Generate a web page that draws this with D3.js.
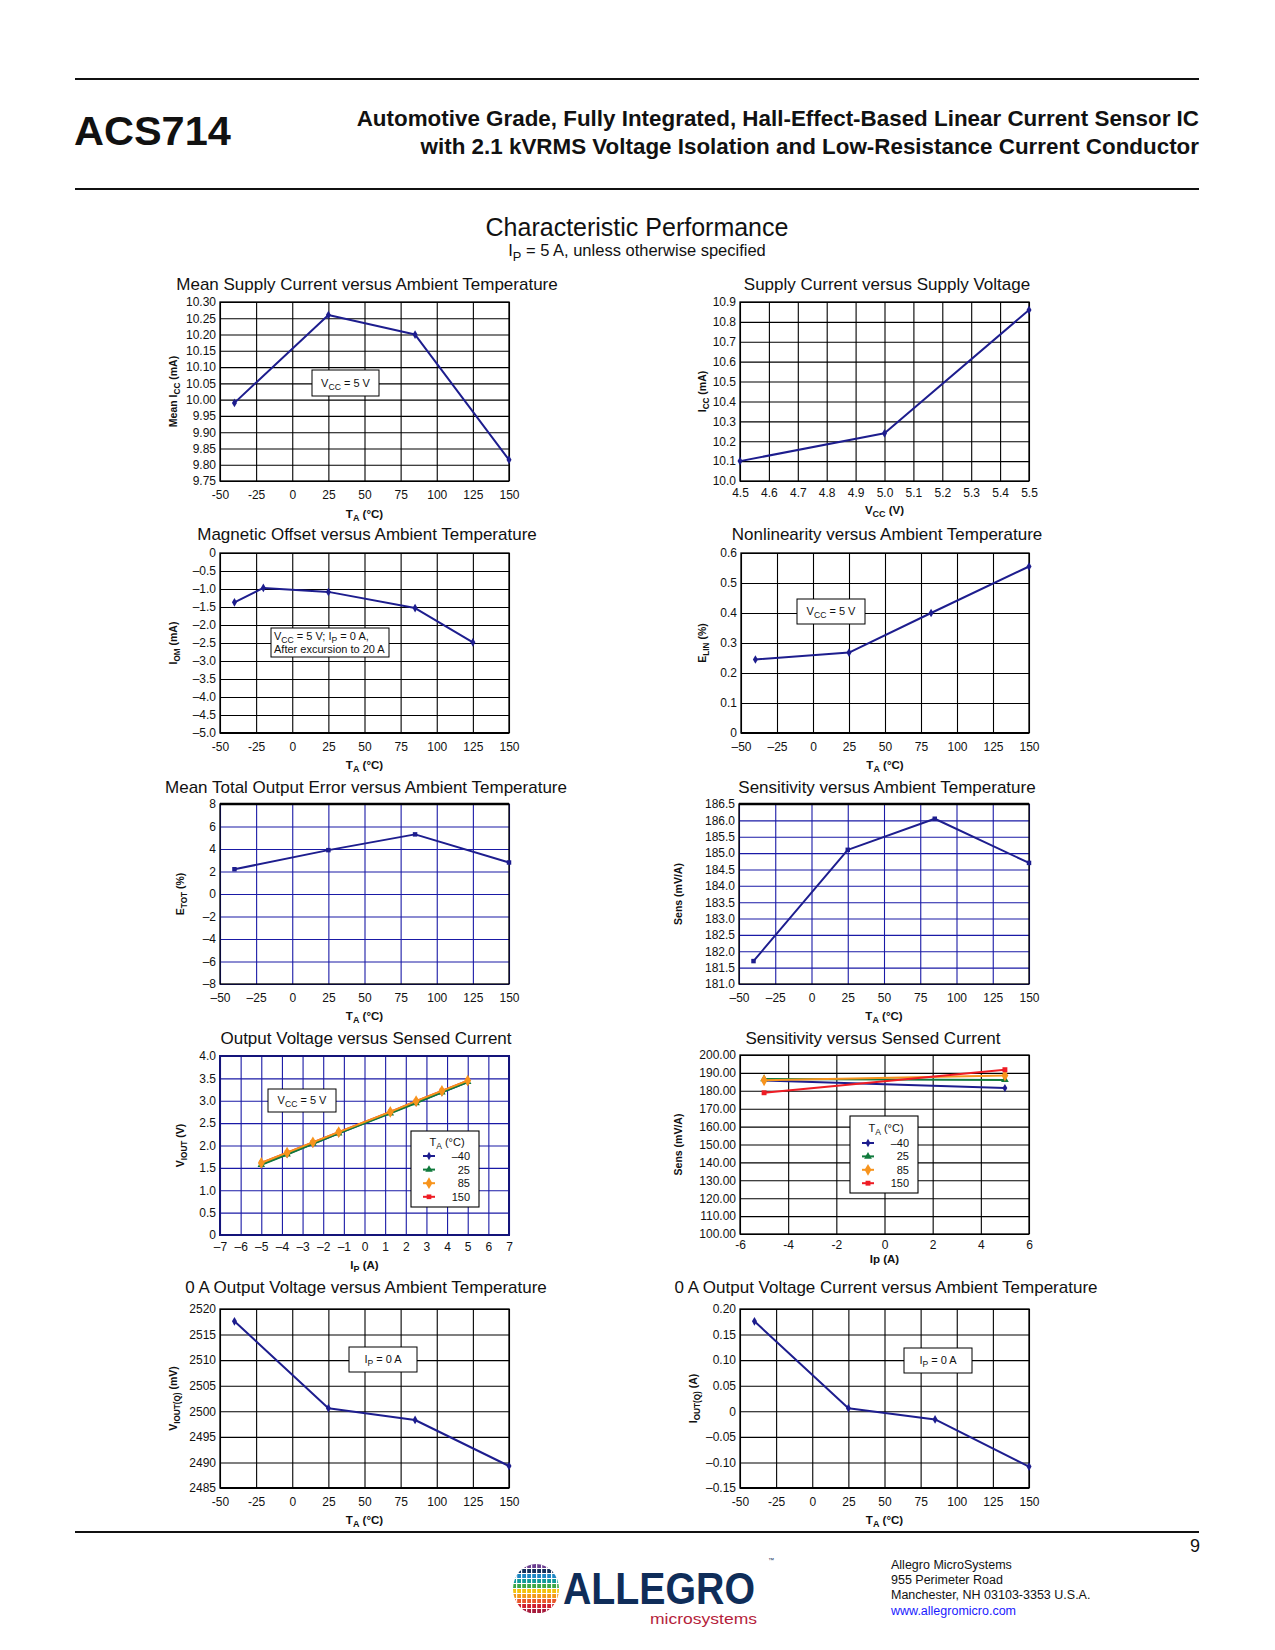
<!DOCTYPE html>
<html><head><meta charset="utf-8">
<script src="https://cdn.jsdelivr.net/npm/d3@7"></script>
<style>
body{margin:0;background:#fff}
svg{display:block}
text{font-family:"Liberation Sans",Arial,Helvetica,sans-serif}
</style>
</head><body>
<svg id="page" width="1275" height="1650"></svg>
<script>
// ---------------- DATA ----------------
// 1 Mean supply current vs ambient temperature
const c1Temp = [-40, 25, 85, 150];
const c1Icc = [9.99, 10.26, 10.20, 9.815];
const c1XTicks = [-50, -25, 0, 25, 50, 75, 100, 125, 150];
const c1XLabels = ["-50", "-25", "0", "25", "50", "75", "100", "125", "150"];
const c1YTicks = [9.75, 9.80, 9.85, 9.90, 9.95, 10.00, 10.05, 10.10, 10.15, 10.20, 10.25, 10.30];
const c1YLabels = ["9.75", "9.80", "9.85", "9.90", "9.95", "10.00", "10.05", "10.10", "10.15", "10.20", "10.25", "10.30"];

// 2 Supply current vs supply voltage
const c2Vcc = [4.5, 5.0, 5.5];
const c2Icc = [10.10, 10.24, 10.86];
const c2XTicks = [4.5, 4.6, 4.7, 4.8, 4.9, 5.0, 5.1, 5.2, 5.3, 5.4, 5.5];
const c2XLabels = ["4.5", "4.6", "4.7", "4.8", "4.9", "5.0", "5.1", "5.2", "5.3", "5.4", "5.5"];
const c2YTicks = [10.0, 10.1, 10.2, 10.3, 10.4, 10.5, 10.6, 10.7, 10.8, 10.9];
const c2YLabels = ["10.0", "10.1", "10.2", "10.3", "10.4", "10.5", "10.6", "10.7", "10.8", "10.9"];

// 3 Magnetic offset vs ambient temperature
const c3Temp = [-40, -20, 25, 85, 125];
const c3Iom = [-1.37, -0.97, -1.08, -1.53, -2.48];
const c3YTicks = [0, -0.5, -1.0, -1.5, -2.0, -2.5, -3.0, -3.5, -4.0, -4.5, -5.0];
const c3YLabels = ["0", "–0.5", "–1.0", "–1.5", "–2.0", "–2.5", "–3.0", "–3.5", "–4.0", "–4.5", "–5.0"];

// 4 Nonlinearity vs ambient temperature
const c4Temp = [-40, 25, 82, 150];
const c4Elin = [0.245, 0.268, 0.40, 0.555];
const c4XLabels = ["–50", "–25", "0", "25", "50", "75", "100", "125", "150"];
const c4YTicks = [0, 0.1, 0.2, 0.3, 0.4, 0.5, 0.6];
const c4YLabels = ["0", "0.1", "0.2", "0.3", "0.4", "0.5", "0.6"];

// 5 Mean total output error vs ambient temperature
const c5Temp = [-40, 25, 85, 150];
const c5Etot = [2.2, 3.9, 5.3, 2.8];
const c5YTicks = [-8, -6, -4, -2, 0, 2, 4, 6, 8];
const c5YLabels = ["–8", "–6", "–4", "–2", "0", "2", "4", "6", "8"];

// 6 Sensitivity vs ambient temperature
const c6Temp = [-40, 25, 85, 150];
const c6Sens = [181.7, 185.1, 186.05, 184.7];
const c6YTicks = [181.0, 181.5, 182.0, 182.5, 183.0, 183.5, 184.0, 184.5, 185.0, 185.5, 186.0, 186.5];
const c6YLabels = ["181.0", "181.5", "182.0", "182.5", "183.0", "183.5", "184.0", "184.5", "185.0", "185.5", "186.0", "186.5"];

// 7 Output voltage vs sensed current
const c7Ip = [-5, -3.75, -2.5, -1.25, 1.25, 2.5, 3.75, 5];
const c7VoutM40 = [1.58, 1.81, 2.04, 2.27, 2.73, 2.96, 3.19, 3.42];
const c7Vout25 = [1.57, 1.80, 2.04, 2.27, 2.72, 2.95, 3.19, 3.42];
const c7Vout85 = [1.61, 1.84, 2.07, 2.30, 2.75, 2.99, 3.22, 3.45];
const c7Vout150 = [1.61, 1.84, 2.07, 2.30, 2.75, 2.99, 3.22, 3.45];
const c7XTicks = [-7, -6, -5, -4, -3, -2, -1, 0, 1, 2, 3, 4, 5, 6, 7];
const c7XLabels = ["–7", "–6", "–5", "–4", "–3", "–2", "–1", "0", "1", "2", "3", "4", "5", "6", "7"];
const c7YTicks = [0, 0.5, 1.0, 1.5, 2.0, 2.5, 3.0, 3.5, 4.0];
const c7YLabels = ["0", "0.5", "1.0", "1.5", "2.0", "2.5", "3.0", "3.5", "4.0"];

// 8 Sensitivity vs sensed current
const c8Ip = [-5, 5];
const c8SensM40 = [185.8, 181.5];
const c8Sens25 = [186.6, 186.1];
const c8Sens85 = [185.9, 188.5];
const c8Sens150 = [178.9, 191.8];
const c8XTicks = [-6, -4, -2, 0, 2, 4, 6];
const c8XLabels = ["-6", "-4", "-2", "0", "2", "4", "6"];
const c8YTicks = [100, 110, 120, 130, 140, 150, 160, 170, 180, 190, 200];
const c8YLabels = ["100.00", "110.00", "120.00", "130.00", "140.00", "150.00", "160.00", "170.00", "180.00", "190.00", "200.00"];

// legend temperatures
const legendTemps = ["–40", "25", "85", "150"];

// 9 0 A output voltage vs ambient temperature
const c9Temp = [-40, 25, 85, 150];
const c9Vout = [2517.6, 2500.6, 2498.3, 2489.3];
const c9YTicks = [2485, 2490, 2495, 2500, 2505, 2510, 2515, 2520];
const c9YLabels = ["2485", "2490", "2495", "2500", "2505", "2510", "2515", "2520"];

// 10 0 A output current vs ambient temperature
const c10Temp = [-40, 25, 85, 150];
const c10Iout = [0.176, 0.006, -0.016, -0.108];
const c10YTicks = [-0.15, -0.10, -0.05, 0, 0.05, 0.10, 0.15, 0.20];
const c10YLabels = ["–0.15", "–0.10", "–0.05", "0", "0.05", "0.10", "0.15", "0.20"];

// ---------------- STYLE ----------------
const NAVY = "#1d1d8e";
const GRIDBLUE = "#1a1aa6";
const GREEN = "#107a3c";
const ORANGE = "#f7941d";
const RED = "#ee1c24";
const TICKFS = 12;

const svg = d3.select("#page");

function rich(t, str, fs) {
  const parts = str.split(/(\{[^}]*\})/);
  let sub = false;
  parts.forEach(p => {
    if (!p) return;
    if (p[0] === "{") {
      t.append("tspan").attr("dy", (0.28 * fs).toFixed(2)).attr("font-size", (fs * 0.78).toFixed(2)).text(p.slice(1, -1));
      sub = true;
    } else {
      const s = t.append("tspan").text(p);
      if (sub) { s.attr("dy", (-0.28 * fs).toFixed(2)); sub = false; }
    }
  });
  return t;
}

function sym(type, size) {
  return d3.symbol().type(type).size(size)();
}

function chart(c) {
  const g = svg.append("g");
  const x = d3.scaleLinear().domain(c.xDomain).range([c.x0, c.x1]);
  const y = d3.scaleLinear().domain(c.yDomain).range([c.y1, c.y0]);
  const w = c.x1 - c.x0, h = c.y1 - c.y0;
  const gc = c.grid || "#000";

  const xa = g.append("g").attr("transform", `translate(0,${c.y1})`)
    .call(d3.axisBottom(x).tickValues(c.xTicks).tickSize(-h).tickPadding(c.xPad || 9)
      .tickFormat((d, i) => c.xLabels[i]));
  const ya = g.append("g").attr("transform", `translate(${c.x0},0)`)
    .call(d3.axisLeft(y).tickValues(c.yTicks).tickSize(-w).tickPadding(4)
      .tickFormat((d, i) => c.yLabels[i]));
  [xa, ya].forEach(a => {
    a.select(".domain").remove();
    a.selectAll(".tick line").attr("stroke", gc).attr("stroke-width", 1.1);
    a.selectAll(".tick text").attr("fill", "#111").attr("font-size", TICKFS)
      .style("font-family", '"Liberation Sans",Arial,sans-serif');
  });
  // frame
  g.append("rect").attr("x", c.x0).attr("y", c.y0).attr("width", w).attr("height", h)
    .attr("fill", "none").attr("stroke", c.frame || "#000").attr("stroke-width", c.frameW || 1.3);
  if (c.thickBottom) g.append("line").attr("x1", c.x0).attr("x2", c.x1).attr("y1", c.y1).attr("y2", c.y1)
    .attr("stroke", "#000").attr("stroke-width", 2.2);
  if (c.thickTop) g.append("line").attr("x1", c.x0).attr("x2", c.x1).attr("y1", c.y0).attr("y2", c.y0)
    .attr("stroke", "#000").attr("stroke-width", 2.4);

  // series
  c.series.forEach(s => {
    const pts = s.x.map((v, i) => [v, s.y[i]]);
    g.append("path").datum(pts).attr("fill", "none").attr("stroke", s.color).attr("stroke-width", s.width || 2)
      .attr("stroke-linejoin", "round")
      .attr("d", d3.line().x(d => x(d[0])).y(d => y(d[1])));
    g.selectAll(null).data(pts).enter().append("path")
      .attr("transform", d => `translate(${x(d[0])},${y(d[1])})`)
      .attr("d", sym(s.symbol, s.symSize || 22)).attr("fill", s.color);
  });

  // title
  g.append("text").attr("x", c.titleX).attr("y", c.titleY + 6).attr("text-anchor", "middle")
    .attr("font-size", 17).attr("fill", "#111").text(c.title);
  // x title
  rich(g.append("text").attr("x", (c.x0 + c.x1) / 2).attr("y", c.xTitleY + 4).attr("text-anchor", "middle")
    .attr("font-size", 11.5).attr("font-weight", "bold").attr("fill", "#111"), c.xTitle, 11.5);
  // y title
  rich(g.append("text").attr("transform", `translate(${c.yTitleX + 4},${(c.y0 + c.y1) / 2}) rotate(-90)`)
    .attr("text-anchor", "middle").attr("font-size", 10.5).attr("font-weight", "bold").attr("fill", "#111"), c.yTitle, 10.5);

  // notes
  (c.notes || []).forEach(n => {
    g.append("rect").attr("x", n.x).attr("y", n.y).attr("width", n.w).attr("height", n.h)
      .attr("fill", "#fff").attr("stroke", "#000").attr("stroke-width", 1);
    n.lines.forEach((ln, i) => {
      const t = g.append("text").attr("font-size", 11).attr("fill", "#111");
      if (n.align === "start") t.attr("x", n.x + 3);
      else t.attr("x", n.x + n.w / 2).attr("text-anchor", "middle");
      const cy = n.lines.length === 1 ? n.y + n.h / 2 : n.y + 8 + i * 13.3;
      t.attr("y", cy + 3.5);
      rich(t, ln, 11);
    });
  });

  // legend
  if (c.legend) {
    const L = c.legend;
    g.append("rect").attr("x", L.x).attr("y", L.y).attr("width", L.w).attr("height", L.h)
      .attr("fill", "#fff").attr("stroke", "#000").attr("stroke-width", 1.1);
    rich(g.append("text").attr("x", L.x + L.w / 2 + 2).attr("y", L.y + L.headY + 4).attr("text-anchor", "middle")
      .attr("font-size", 11).attr("fill", "#111"), "T{A} (°C)", 11);
    L.items.forEach((it, i) => {
      const yy = L.y + L.row0 + i * L.step;
      g.append("line").attr("x1", L.x + 12).attr("x2", L.x + 24).attr("y1", yy).attr("y2", yy)
        .attr("stroke", it.color).attr("stroke-width", 2);
      g.append("path").attr("transform", `translate(${L.x + 18},${yy})`).attr("d", sym(it.symbol, it.symSize || 22))
        .attr("fill", it.color);
      g.append("text").attr("x", L.x + L.labelX).attr("y", yy + 4).attr("text-anchor", "end")
        .attr("font-size", 11).attr("fill", "#111").text(it.label);
    });
  }
}

const tempTicks = c1XTicks;
const tDom = [-50, 150];

chart({x0: 220, x1: 509, y0: 302, y1: 481, xDomain: tDom, yDomain: [9.75, 10.30],
  xTicks: tempTicks, xLabels: c1XLabels, yTicks: c1YTicks, yLabels: c1YLabels,
  title: "Mean Supply Current versus Ambient Temperature", titleX: 367, titleY: 284,
  xTitle: "T{A} (°C)", xTitleY: 514, yTitle: "Mean I{CC} (mA)", yTitleX: 173,
  series: [{x: c1Temp, y: c1Icc, color: NAVY, symbol: d3.symbolDiamond}],
  notes: [{x: 312, y: 370, w: 67, h: 26, lines: ["V{CC} = 5 V"]}]});

chart({x0: 740, x1: 1029, y0: 302, y1: 481, xDomain: [4.5, 5.5], yDomain: [10.0, 10.9],
  xTicks: c2XTicks, xLabels: c2XLabels, yTicks: c2YTicks, yLabels: c2YLabels, xPad: 7,
  title: "Supply Current versus Supply Voltage", titleX: 887, titleY: 284,
  xTitle: "V{CC} (V)", xTitleY: 510, yTitle: "I{CC} (mA)", yTitleX: 702,
  series: [{x: c2Vcc, y: c2Icc, color: NAVY, symbol: d3.symbolDiamond}]});

chart({x0: 220, x1: 509, y0: 553, y1: 733, xDomain: tDom, yDomain: [-5, 0],
  xTicks: tempTicks, xLabels: c1XLabels, yTicks: c3YTicks, yLabels: c3YLabels, thickBottom: true,
  title: "Magnetic Offset versus Ambient Temperature", titleX: 367, titleY: 534,
  xTitle: "T{A} (°C)", xTitleY: 765, yTitle: "I{OM} (mA)", yTitleX: 173,
  series: [{x: c3Temp, y: c3Iom, color: NAVY, symbol: d3.symbolDiamond}],
  notes: [{x: 271, y: 628, w: 118, h: 29, align: "start", lines: ["V{CC} = 5 V; I{P} = 0 A,", "After excursion to 20 A"]}]});

chart({x0: 741, x1: 1029, y0: 553, y1: 733, xDomain: tDom, yDomain: [0, 0.6],
  xTicks: tempTicks, xLabels: c4XLabels, yTicks: c4YTicks, yLabels: c4YLabels, thickBottom: true,
  title: "Nonlinearity versus Ambient Temperature", titleX: 887, titleY: 534,
  xTitle: "T{A} (°C)", xTitleY: 765, yTitle: "E{LIN} (%)", yTitleX: 702,
  series: [{x: c4Temp, y: c4Elin, color: NAVY, symbol: d3.symbolDiamond}],
  notes: [{x: 797, y: 599, w: 68, h: 25, lines: ["V{CC} = 5 V"]}]});

chart({x0: 220, x1: 509, y0: 804, y1: 984, xDomain: tDom, yDomain: [-8, 8],
  xTicks: tempTicks, xLabels: c4XLabels, yTicks: c5YTicks, yLabels: c5YLabels, grid: GRIDBLUE, thickTop: true,
  title: "Mean Total Output Error versus Ambient Temperature", titleX: 366, titleY: 787,
  xTitle: "T{A} (°C)", xTitleY: 1016, yTitle: "E{TOT} (%)", yTitleX: 180,
  series: [{x: c5Temp, y: c5Etot, color: NAVY, symbol: d3.symbolSquare, symSize: 20}]});

chart({x0: 739, x1: 1029, y0: 804, y1: 984, xDomain: tDom, yDomain: [181.0, 186.5],
  xTicks: tempTicks, xLabels: c4XLabels, yTicks: c6YTicks, yLabels: c6YLabels, grid: GRIDBLUE, thickTop: true,
  title: "Sensitivity versus Ambient Temperature", titleX: 887, titleY: 787,
  xTitle: "T{A} (°C)", xTitleY: 1016, yTitle: "Sens (mV/A)", yTitleX: 678,
  series: [{x: c6Temp, y: c6Sens, color: NAVY, symbol: d3.symbolSquare, symSize: 20}]});

chart({x0: 220, x1: 509, y0: 1056, y1: 1235, xDomain: [-7, 7], yDomain: [0, 4],
  xTicks: c7XTicks, xLabels: c7XLabels, yTicks: c7YTicks, yLabels: c7YLabels, grid: GRIDBLUE,
  frame: "#14147a", frameW: 2, xPad: 7,
  title: "Output Voltage versus Sensed Current", titleX: 366, titleY: 1038,
  xTitle: "I{P} (A)", xTitleY: 1265, yTitle: "V{IOUT} (V)", yTitleX: 180,
  series: [
    {x: c7Ip, y: c7Vout150, color: RED, symbol: d3.symbolSquare, symSize: 22},
    {x: c7Ip, y: c7VoutM40, color: NAVY, symbol: d3.symbolDiamond, symSize: 20},
    {x: c7Ip, y: c7Vout25, color: GREEN, symbol: d3.symbolTriangle, symSize: 24},
    {x: c7Ip, y: c7Vout85, color: ORANGE, symbol: d3.symbolDiamond, symSize: 40}],
  notes: [{x: 268, y: 1089, w: 68, h: 23, lines: ["V{CC} = 5 V"]}],
  legend: {x: 411, y: 1131, w: 68, h: 76, headY: 11, row0: 25, step: 13.6, labelX: 59,
    items: [
      {label: legendTemps[0], color: NAVY, symbol: d3.symbolDiamond, symSize: 20},
      {label: legendTemps[1], color: GREEN, symbol: d3.symbolTriangle, symSize: 24},
      {label: legendTemps[2], color: ORANGE, symbol: d3.symbolDiamond, symSize: 40},
      {label: legendTemps[3], color: RED, symbol: d3.symbolSquare, symSize: 22}]}});

chart({x0: 740, x1: 1029, y0: 1055, y1: 1234, xDomain: [-6, 6], yDomain: [100, 200],
  xTicks: c8XTicks, xLabels: c8XLabels, yTicks: c8YTicks, yLabels: c8YLabels, xPad: 6,
  title: "Sensitivity versus Sensed Current", titleX: 873, titleY: 1038,
  xTitle: "Ip (A)", xTitleY: 1259, yTitle: "Sens (mV/A)", yTitleX: 678,
  series: [
    {x: c8Ip, y: c8SensM40, color: NAVY, symbol: d3.symbolDiamond, symSize: 20},
    {x: c8Ip, y: c8Sens25, color: GREEN, symbol: d3.symbolTriangle, symSize: 26},
    {x: c8Ip, y: c8Sens85, color: ORANGE, symbol: d3.symbolDiamond, symSize: 40},
    {x: c8Ip, y: c8Sens150, color: RED, symbol: d3.symbolSquare, symSize: 24}],
  legend: {x: 850, y: 1116, w: 68, h: 77, headY: 12, row0: 27, step: 13.4, labelX: 59,
    items: [
      {label: legendTemps[0], color: NAVY, symbol: d3.symbolDiamond, symSize: 20},
      {label: legendTemps[1], color: GREEN, symbol: d3.symbolTriangle, symSize: 26},
      {label: legendTemps[2], color: ORANGE, symbol: d3.symbolDiamond, symSize: 40},
      {label: legendTemps[3], color: RED, symbol: d3.symbolSquare, symSize: 24}]}});

chart({x0: 220, x1: 509, y0: 1309, y1: 1488, xDomain: tDom, yDomain: [2485, 2520],
  xTicks: tempTicks, xLabels: c1XLabels, yTicks: c9YTicks, yLabels: c9YLabels, thickBottom: true,
  title: "0 A Output Voltage versus Ambient Temperature", titleX: 366, titleY: 1287,
  xTitle: "T{A} (°C)", xTitleY: 1520, yTitle: "V{IOUT(Q)} (mV)", yTitleX: 173,
  series: [{x: c9Temp, y: c9Vout, color: NAVY, symbol: d3.symbolDiamond}],
  notes: [{x: 349, y: 1347, w: 68, h: 25, lines: ["I{P} = 0 A"]}]});

chart({x0: 740, x1: 1029, y0: 1309, y1: 1488, xDomain: tDom, yDomain: [-0.15, 0.20],
  xTicks: tempTicks, xLabels: c1XLabels, yTicks: c10YTicks, yLabels: c10YLabels, thickBottom: true,
  title: "0 A Output Voltage Current versus Ambient Temperature", titleX: 886, titleY: 1287,
  xTitle: "T{A} (°C)", xTitleY: 1520, yTitle: "I{OUT(Q)} (A)", yTitleX: 693,
  series: [{x: c10Temp, y: c10Iout, color: NAVY, symbol: d3.symbolDiamond}],
  notes: [{x: 904, y: 1348, w: 68, h: 25, lines: ["I{P} = 0 A"]}]});

// ---------------- PAGE FURNITURE ----------------
svg.append("line").attr("x1", 75).attr("x2", 1199).attr("y1", 79).attr("y2", 79).attr("stroke", "#111").attr("stroke-width", 2);
svg.append("line").attr("x1", 75).attr("x2", 1199).attr("y1", 189).attr("y2", 189).attr("stroke", "#111").attr("stroke-width", 2);
svg.append("text").attr("x", 74).attr("y", 145).attr("font-size", 41.5).attr("font-weight", "bold").attr("fill", "#111").text("ACS714");
svg.append("text").attr("x", 1199).attr("y", 126).attr("text-anchor", "end").attr("font-size", 22.4).attr("font-weight", "bold").attr("fill", "#111")
  .text("Automotive Grade, Fully Integrated, Hall-Effect-Based Linear Current Sensor IC");
svg.append("text").attr("x", 1199).attr("y", 154).attr("text-anchor", "end").attr("font-size", 22.4).attr("font-weight", "bold").attr("fill", "#111")
  .text("with 2.1 kVRMS Voltage Isolation and Low-Resistance Current Conductor");
svg.append("text").attr("x", 637).attr("y", 236).attr("text-anchor", "middle").attr("font-size", 25).attr("fill", "#111").text("Characteristic Performance");
rich(svg.append("text").attr("x", 637).attr("y", 256).attr("text-anchor", "middle").attr("font-size", 16.5).attr("fill", "#111"),
  "I{P} = 5 A, unless otherwise specified", 16.5);

svg.append("line").attr("x1", 75).attr("x2", 1199).attr("y1", 1532).attr("y2", 1532).attr("stroke", "#111").attr("stroke-width", 2);
svg.append("text").attr("x", 1200).attr("y", 1552).attr("text-anchor", "end").attr("font-size", 18).attr("fill", "#111").text("9");

// logo
const logo = svg.append("g");
const defs = svg.append("defs");
defs.append("clipPath").attr("id", "globe").append("ellipse").attr("cx", 536).attr("cy", 1589).attr("rx", 23).attr("ry", 25);
const bandColors = ["#6a3d8f", "#16325c", "#1d86c4", "#119a9a", "#3ea748", "#f4c20d", "#f39a1b", "#e8562a", "#d0202e", "#a61c3c"];
const gl = logo.append("g").attr("clip-path", "url(#globe)");
bandColors.forEach((col, i) => {
  gl.append("rect").attr("x", 510).attr("y", 1564 + i * 5).attr("width", 52).attr("height", 4).attr("fill", col);
});
d3.range(9).forEach(i => {
  gl.append("rect").attr("x", 516 + i * 5).attr("y", 1562).attr("width", 1.2).attr("height", 55).attr("fill", "#fff");
});
logo.append("text").attr("x", 563).attr("y", 1604).attr("font-size", 44).attr("font-weight", "bold")
  .attr("textLength", 192).attr("lengthAdjust", "spacingAndGlyphs").attr("fill", "#0f2d59").text("ALLEGRO");
logo.append("text").attr("x", 768).attr("y", 1562).attr("font-size", 6).attr("fill", "#0f2d59").text("™");
logo.append("text").attr("x", 650).attr("y", 1624).attr("font-size", 14).attr("textLength", 107)
  .attr("lengthAdjust", "spacingAndGlyphs").attr("fill", "#b51e3b").text("microsystems");

const addr = ["Allegro MicroSystems", "955 Perimeter Road", "Manchester, NH 03103-3353 U.S.A.", "www.allegromicro.com"];
addr.forEach((a, i) => {
  svg.append("text").attr("x", 891).attr("y", 1569 + i * 15.2).attr("font-size", 12.5)
    .attr("fill", i === 3 ? "#1a1aff" : "#111").text(a);
});
</script>
</body></html>
